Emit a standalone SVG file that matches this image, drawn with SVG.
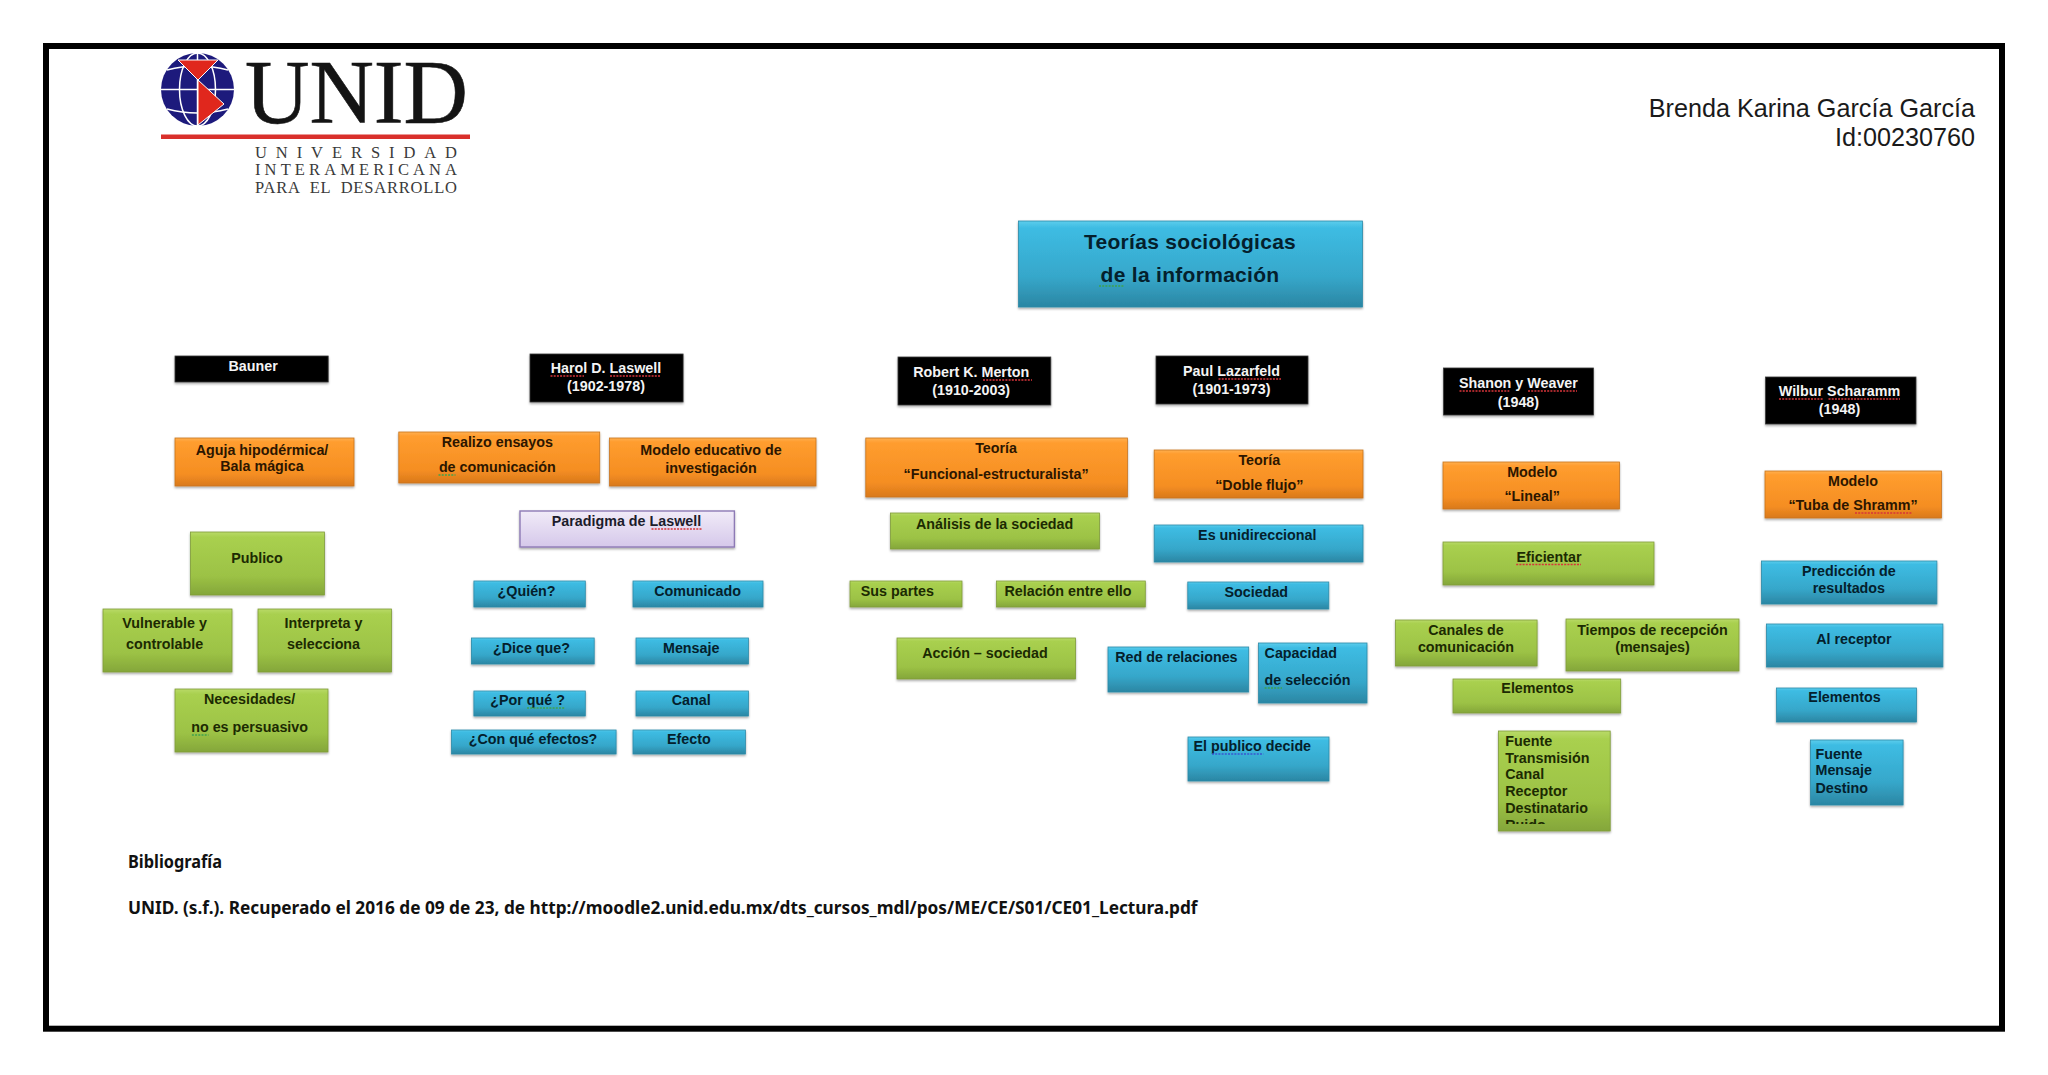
<svg xmlns="http://www.w3.org/2000/svg" width="2048" height="1075" viewBox="0 0 2048 1075">
<style>
text{font-family:"Liberation Sans",Arial,sans-serif;font-weight:700;font-size:14.3px;text-anchor:middle}
.l{text-anchor:start}
.k rect{fill:#000;stroke:#3a3a3a;stroke-width:.8;filter:url(#s)}
.k text{fill:#f4f4f4}
.o rect{fill:url(#go);stroke:#c9741c;stroke-width:.8;filter:url(#s)}
.o text{fill:#2c1600}
.g rect{fill:url(#gg);stroke:#7f9c3a;stroke-width:.8;filter:url(#s)}
.g text{fill:#1c2a02}
.b rect{fill:url(#gb);stroke:#2c8aa8;stroke-width:.8;filter:url(#s)}
.b text{fill:#04202c}
.p rect{fill:url(#gp);stroke:#8d7ab5;stroke-width:1.4;filter:url(#s)}
.p text{fill:#1c1c2c}
.sr,.sg,.sb{fill:none;stroke-width:1.4;stroke-dasharray:2 1.2}
.sr{stroke:#d8343a}.sg{stroke:#3fa34d}.sb{stroke:#3a55d0}
.logo{font-family:"Liberation Serif","Times New Roman",serif;font-weight:400;text-anchor:start;fill:#3a3a3a;font-size:16.5px;white-space:pre}
.foot{font-family:"Noto Sans",sans-serif;font-size:17.5px;text-anchor:start;fill:#111}
.top{font-weight:400;font-size:25.2px;text-anchor:end;fill:#1a1a1a}
.tt{font-size:21px;letter-spacing:.3px}
</style>
<defs>
<filter id="s" x="-10%" y="-10%" width="120%" height="130%"><feDropShadow dx="0" dy="1.5" stdDeviation="1.2" flood-color="#000" flood-opacity=".35"/></filter>
<linearGradient id="go" x1="0" y1="0" x2="0" y2="1"><stop offset="0" stop-color="#ffb050"/><stop offset=".08" stop-color="#ff9d2f"/><stop offset=".75" stop-color="#f58e22"/><stop offset="1" stop-color="#d9791c"/></linearGradient>
<linearGradient id="gg" x1="0" y1="0" x2="0" y2="1"><stop offset="0" stop-color="#b9da68"/><stop offset=".08" stop-color="#a9d04f"/><stop offset=".7" stop-color="#9cc245"/><stop offset="1" stop-color="#84a63a"/></linearGradient>
<linearGradient id="gb" x1="0" y1="0" x2="0" y2="1"><stop offset="0" stop-color="#5ccdec"/><stop offset=".08" stop-color="#3dbce3"/><stop offset=".65" stop-color="#36a7ca"/><stop offset="1" stop-color="#2b86a3"/></linearGradient>
<linearGradient id="gp" x1="0" y1="0" x2="0" y2="1"><stop offset="0" stop-color="#f1ebf8"/><stop offset="1" stop-color="#d5c8ea"/></linearGradient>
<clipPath id="clipF"><rect x="1498.500" y="731" width="112.400" height="93"/></clipPath>
</defs>
<rect width="2048" height="1075" fill="#fff"/>
<rect id="frame" x="46" y="46" width="1956" height="982.700" fill="none" stroke="#000" stroke-width="6"/>
<g id="logo">
<circle cx="197.500" cy="89.500" r="36.500" fill="#1d1a7c"/>
<g fill="none" stroke="#fff" stroke-width="1.500">
<ellipse cx="197.500" cy="89.500" rx="18" ry="36.500"/>
<path d="M197.500 53V126M161 89.500H234M167 70Q197.500 62 228 70M167 109Q197.500 117 228 109"/>
</g>
<path d="M178 60H218L198 80Z" fill="#e0271d" stroke="#fff" stroke-width="1"/>
<path d="M198 80L224 104L198 125Z" fill="#e0271d" stroke="#fff" stroke-width="1"/>
<text x="245" y="123" textLength="223" lengthAdjust="spacingAndGlyphs" stroke="#141414" stroke-width=".6" style="font-family:'Liberation Serif','Times New Roman',serif;font-weight:400;font-size:90px;text-anchor:start;fill:#141414">UNID</text>
<rect x="161" y="134.500" width="309" height="4.500" fill="#d9302b"/>
<text class="logo" x="255" y="158" textLength="202">UNIVERSIDAD</text>
<text class="logo" x="255" y="175" textLength="202">INTERAMERICANA</text>
<text class="logo" x="255" y="193" textLength="202">PARA  EL  DESARROLLO</text>
</g>
<g id="author">
<text class="top" x="1975" y="116.500">Brenda Karina García García</text>
<text class="top" x="1975" y="146">Id:00230760</text>
</g>
<g id="connectors"/>
<g id="n-title" class="b"><rect x="1018.500" y="221" width="344" height="86"/><text class="tt" x="1190" y="248.500">Teorías sociológicas</text><text class="tt" x="1190" y="282">de la información</text><path class="sg" d="M1099 286H1124"/></g>

<g id="n-bauner" class="k"><rect x="175" y="356" width="153.200" height="26"/><text x="253.100" y="370.500">Bauner</text></g>
<g id="n-laswell" class="k"><rect x="530" y="354" width="153.100" height="48"/><text x="606" y="373">Harol D. Laswell</text><text x="606" y="391">(1902-1978)</text><path class="sr" d="M550.500 376H584M610 376H661"/></g>
<g id="n-aguja" class="o"><rect x="175" y="438" width="179" height="48"/><text x="262" y="455">Aguja hipodérmica/</text><text x="262" y="471">Bala mágica</text></g>
<g id="n-realizo" class="o"><rect x="398.800" y="432" width="200.900" height="51"/><text x="497.300" y="447">Realizo ensayos</text><text x="497.300" y="472">de comunicación</text><path class="sg" d="M438.500 475H455.500"/></g>
<g id="n-modelo-edu" class="o"><rect x="609.600" y="438" width="206.400" height="48"/><text x="711" y="455">Modelo educativo de</text><text x="711" y="473">investigación</text></g>
<g id="n-paradigma" class="p"><rect x="520" y="511" width="214.400" height="36"/><text x="626.500" y="526">Paradigma de Laswell</text><path class="sr" d="M651.500 529H702.500"/></g>
<g id="n-publico" class="g"><rect x="190.400" y="532" width="134" height="63"/><text x="257" y="563">Publico</text></g>
<g id="n-vulnerable" class="g"><rect x="103" y="609" width="129" height="63"/><text x="164.600" y="628">Vulnerable y</text><text x="164.600" y="649">controlable</text></g>
<g id="n-interpreta" class="g"><rect x="258" y="609" width="133.500" height="63"/><text x="323.500" y="628">Interpreta y</text><text x="323.500" y="649">selecciona</text></g>
<g id="n-necesidades" class="g"><rect x="175" y="689" width="153" height="63"/><text x="249.600" y="704">Necesidades/</text><text x="249.600" y="732">no es persuasivo</text><path class="sg" d="M191.900 735H208.500"/></g>
<g id="n-quien" class="b"><rect x="473.900" y="581" width="111.400" height="26"/><text x="526.600" y="596">¿Quién?</text></g>
<g id="n-comunicado" class="b"><rect x="633" y="581" width="130" height="26"/><text x="697.600" y="596">Comunicado</text></g>
<g id="n-dice" class="b"><rect x="471.400" y="638" width="122.800" height="26"/><text x="531.500" y="653">¿Dice que?</text></g>
<g id="n-mensaje" class="b"><rect x="636" y="638" width="112.400" height="26"/><text x="691.200" y="653">Mensaje</text></g>
<g id="n-porque" class="b"><rect x="473.900" y="691" width="111.400" height="25"/><text x="527.600" y="705">¿Por qué ?</text><path class="sg" d="M527 708H565"/></g>
<g id="n-canal" class="b"><rect x="636" y="691" width="112.400" height="25"/><text x="691.200" y="705">Canal</text></g>
<g id="n-conque" class="b"><rect x="451.500" y="730" width="164.600" height="24"/><text x="533" y="744">¿Con qué efectos?</text></g>
<g id="n-efecto" class="b"><rect x="633" y="730" width="112.400" height="24"/><text x="688.800" y="744">Efecto</text></g>

<g id="n-merton" class="k"><rect x="898" y="357" width="152.800" height="48"/><text x="971.200" y="377">Robert K. Merton</text><text x="971.200" y="395">(1910-2003)</text><path class="sr" d="M983 380H1032"/></g>
<g id="n-lazarfeld" class="k"><rect x="1156" y="356" width="152" height="48"/><text x="1231.500" y="376">Paul Lazarfeld</text><text x="1231.500" y="394">(1901-1973)</text><path class="sr" d="M1218.500 379H1281"/></g>
<g id="n-teoria-f" class="o"><rect x="865.800" y="438" width="261.600" height="59"/><text x="996.100" y="453">Teoría</text><text x="996.100" y="479">“Funcional-estructuralista”</text></g>
<g id="n-teoria-d" class="o"><rect x="1154.200" y="450" width="208.800" height="48"/><text x="1259.300" y="465">Teoría</text><text x="1259.300" y="490">“Doble flujo”</text></g>
<g id="n-analisis" class="g"><rect x="890.500" y="513" width="209" height="36"/><text x="994.600" y="529">Análisis de la sociedad</text></g>
<g id="n-esuni" class="b"><rect x="1154.200" y="525" width="208.800" height="37"/><text x="1257.300" y="540">Es unidireccional</text></g>
<g id="n-suspartes" class="g"><rect x="850" y="581" width="112" height="26"/><text class="l" x="860.800" y="596">Sus partes</text></g>
<g id="n-relacion" class="g"><rect x="996.600" y="581" width="148.700" height="26"/><text x="1068" y="596">Relación entre ello</text></g>
<g id="n-sociedad" class="b"><rect x="1187.800" y="582" width="141" height="27"/><text x="1256.300" y="597">Sociedad</text></g>
<g id="n-accion" class="g"><rect x="897" y="638" width="178.600" height="41"/><text x="985" y="658">Acción – sociedad</text></g>
<g id="n-red" class="b"><rect x="1108" y="647" width="140.700" height="45"/><text class="l" x="1115.200" y="662">Red de relaciones</text></g>
<g id="n-capacidad" class="b"><rect x="1258.600" y="643" width="108.400" height="60"/><text class="l" x="1264.600" y="658">Capacidad</text><text class="l" x="1264.600" y="685">de selección</text><path class="sg" d="M1264.600 688H1282"/></g>
<g id="n-elpublico" class="b"><rect x="1188" y="737" width="141" height="44"/><text class="l" x="1193.500" y="751">El publico decide</text><path class="sb" d="M1212 754H1263.500"/></g>

<g id="n-shanon" class="k"><rect x="1443.500" y="368" width="150" height="47"/><text x="1518.400" y="388">Shanon y Weaver</text><text x="1518.400" y="407">(1948)</text><path class="sr" d="M1459.500 391H1509.300M1528 391H1577"/></g>
<g id="n-wilbur" class="k"><rect x="1765.500" y="377" width="150.500" height="47"/><text x="1839.500" y="396">Wilbur Scharamm</text><text x="1839.500" y="414">(1948)</text><path class="sr" d="M1779 399H1823.500M1828.500 399H1900"/></g>
<g id="n-lineal" class="o"><rect x="1443" y="462" width="176.500" height="47"/><text x="1532.200" y="477">Modelo</text><text x="1532.200" y="501">“Lineal”</text></g>
<g id="n-tuba" class="o"><rect x="1765" y="471" width="176.400" height="47"/><text x="1853" y="486">Modelo</text><text x="1853" y="510">“Tuba de Shramm”</text><path class="sr" d="M1855 513H1912.500"/></g>
<g id="n-eficientar" class="g"><rect x="1443" y="542" width="211" height="43"/><text x="1549" y="561.500">Eficientar</text><path class="sr" d="M1516.200 564.500H1581"/></g>
<g id="n-prediccion" class="b"><rect x="1761.500" y="561" width="175.400" height="43"/><text x="1848.900" y="576">Predicción de</text><text x="1848.900" y="593">resultados</text></g>
<g id="n-canales" class="g"><rect x="1395.500" y="620" width="141.600" height="46"/><text x="1466" y="635">Canales de</text><text x="1466" y="652">comunicación</text></g>
<g id="n-tiempos" class="g"><rect x="1566" y="619" width="173" height="52"/><text x="1652.500" y="635">Tiempos de recepción</text><text x="1652.500" y="652">(mensajes)</text></g>
<g id="n-alreceptor" class="b"><rect x="1766.500" y="624" width="176.400" height="43"/><text x="1853.900" y="644">Al receptor</text></g>
<g id="n-elementos-g" class="g"><rect x="1453" y="679" width="167.700" height="34"/><text x="1537.500" y="693">Elementos</text></g>
<g id="n-elementos-b" class="b"><rect x="1776.500" y="688" width="140" height="34"/><text x="1844.500" y="702">Elementos</text></g>
<g id="n-fuente-g" class="g"><rect x="1498.500" y="731" width="111.700" height="100"/><g clip-path="url(#clipF)"><text class="l" x="1505.300" y="746">Fuente</text><text class="l" x="1505.300" y="763">Transmisión</text><text class="l" x="1505.300" y="779">Canal</text><text class="l" x="1505.300" y="796">Receptor</text><text class="l" x="1505.300" y="813">Destinatario</text><text class="l" x="1505.300" y="830">Ruido</text></g></g>
<g id="n-fuente-b" class="b"><rect x="1810.500" y="740" width="92.600" height="65"/><text class="l" x="1815.500" y="759">Fuente</text><text class="l" x="1815.500" y="775">Mensaje</text><text class="l" x="1815.500" y="793">Destino</text></g>

<g id="bibliografia">
<text class="foot" x="128" y="867.500" textLength="94" lengthAdjust="spacingAndGlyphs">Bibliografía</text>
<text class="foot" x="128" y="913.500" textLength="1069.500" lengthAdjust="spacingAndGlyphs">UNID. (s.f.). Recuperado el 2016 de 09 de 23, de http://moodle2.unid.edu.mx/dts_cursos_mdl/pos/ME/CE/S01/CE01_Lectura.pdf</text>
</g>
</svg>
